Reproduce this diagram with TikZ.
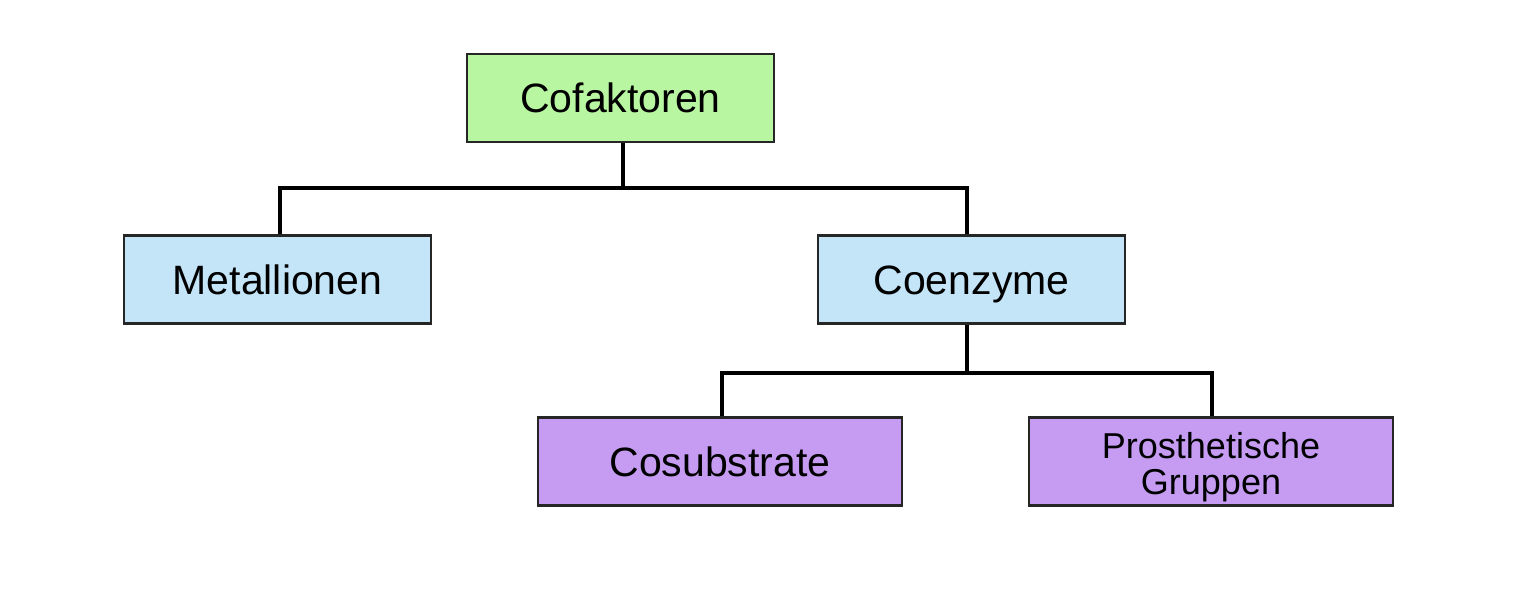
\documentclass[tikz,border=0pt]{standalone}
\usepackage{fontspec}
\setmainfont{Liberation Sans}
\definecolor{cgreen}{HTML}{B9F6A2}
\definecolor{cblue}{HTML}{C4E5F8}
\definecolor{cpurple}{HTML}{C59CF2}
\begin{document}
\begin{tikzpicture}[x=1pt,y=-1pt,
  boxbase/.style={draw=black!85,line width=2.3pt,minimum width=307pt,minimum height=88pt,inner sep=0pt},
  box/.style={boxbase,font=\fontsize{41}{44}\selectfont,text height=35pt,text depth=5pt},
  wide/.style={box,minimum width=364pt},
  conn/.style={line width=4.8pt,line cap=butt}]
\useasboundingbox (0,0) rectangle (1532,607);
\fill[white] (0,0) rectangle (1532,607);
\node[box,fill=cgreen] (cof) at (620.5,98) {Cofaktoren};
\node[box,fill=cblue] (met) at (277.5,279.5) {Metallionen};
\node[box,fill=cblue] (coe) at (971.5,279.5) {Coenzyme};
\node[wide,fill=cpurple] (cos) at (720,461.5) {Cosubstrate};
\node[boxbase,minimum width=364pt,fill=cpurple,font=\fontsize{36}{36}\selectfont,text height=30pt,text depth=37pt] (pro) at (1211,461.5) {\begin{tabular}[t]{@{}c@{}}Prosthetische\\Gruppen\end{tabular}};
\coordinate (j1) at (623,188);
\coordinate (j2) at (967,373);
\draw[conn] (cof.south -| j1) -- (j1);
\draw[conn] (met.north -| 280,0) |- (j1) -| (coe.north -| j2);
\draw[conn] (coe.south -| j2) -- (j2);
\draw[conn] (cos.north -| 722,0) |- (j2) -| (pro.north -| 1212,0);
\end{tikzpicture}
\end{document}
